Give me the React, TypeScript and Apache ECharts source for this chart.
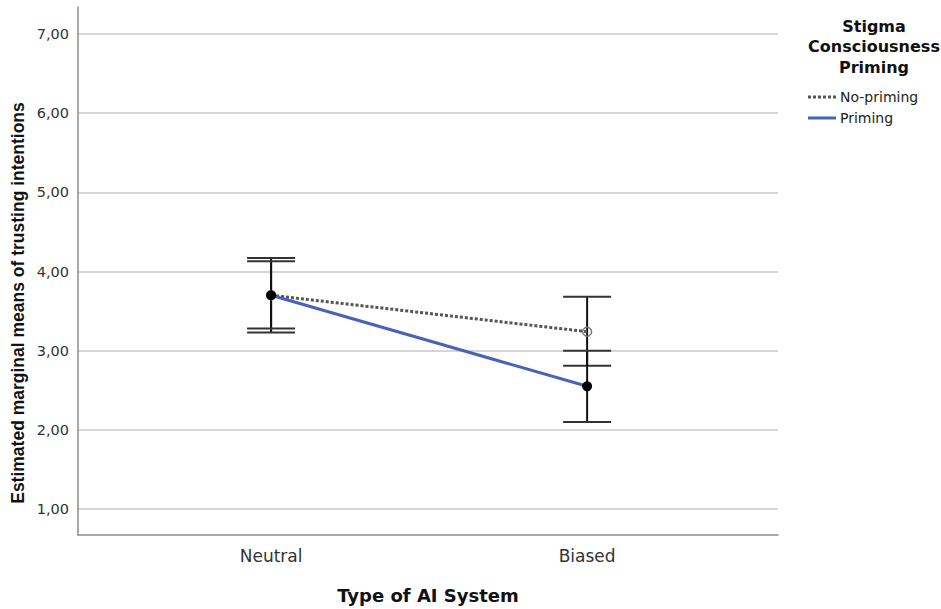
import React, { useEffect, useRef } from "react";
import * as echarts from "echarts";

const categories = ["Neutral", "Biased"];
const noPrimingMeans = [3.70, 3.24];
const noPrimingLow = [3.23, 2.81];
const noPrimingHigh = [4.17, 3.68];
const primingMeans = [3.70, 2.55];
const primingLow = [3.28, 2.10];
const primingHigh = [4.13, 3.00];
const yTicks = [1, 2, 3, 4, 5, 6, 7];

const fmt = (v: number) => v.toFixed(2).replace(".", ",");

export default function App() {
  const ref = useRef<HTMLDivElement>(null);
  useEffect(() => {
    if (!ref.current) return;
    const chart = echarts.init(ref.current, null, { renderer: "svg" });
    const errData: number[][] = [];
    categories.forEach((_, i) => {
      errData.push([i + 1, noPrimingLow[i], noPrimingHigh[i]]);
      errData.push([i + 1, primingLow[i], primingHigh[i]]);
    });
    const capColor = "#333";
    chart.setOption({
      animation: false,
      backgroundColor: "#fff",
      grid: { left: 78, top: 7, right: 163, bottom: 74, containLabel: false },
      xAxis: {
        type: "value",
        min: 0.389,
        max: 2.604,
        axisLine: { show: true, lineStyle: { color: "#8c8c8c", width: 1.5 } },
        axisTick: { show: false, customValues: [1, 2] },
        splitLine: { show: false },
        axisLabel: {
          customValues: [1, 2],
          formatter: (v: number) => categories[Math.round(v) - 1] ?? "",
          fontFamily: "DejaVu Sans",
          fontSize: 17,
          color: "#333",
          margin: 12,
        },
        name: "Type of AI System",
        nameLocation: "middle",
        nameGap: 51,
        nameTextStyle: { fontFamily: "DejaVu Sans", fontWeight: "bold", fontSize: 18, color: "#111" },
      },
      yAxis: {
        type: "value",
        min: 0.672,
        max: 7.341,
        axisLine: { show: true, lineStyle: { color: "#8c8c8c", width: 1.5 } },
        axisTick: { show: false, customValues: yTicks },
        splitLine: { show: true, lineStyle: { color: "#c8c8c8", width: 1.5 } },
        axisLabel: {
          customValues: yTicks,
          formatter: (v: number) => fmt(v),
          fontFamily: "DejaVu Sans",
          fontSize: 14.5,
          color: "#333",
          margin: 9,
        },
      },
      series: [
        {
          type: "custom",
          name: "CI",
          data: errData,
          z: 1,
          renderItem: (params: any, api: any) => {
            const x = api.value(0);
            const lo = api.coord([x, api.value(1)]);
            const hi = api.coord([x, api.value(2)]);
            const hw = 24;
            return {
              type: "group",
              children: [
                { type: "line", shape: { x1: hi[0], y1: hi[1], x2: lo[0], y2: lo[1] }, style: { stroke: "#111", lineWidth: 2 } },
                { type: "line", shape: { x1: hi[0] - hw, y1: hi[1], x2: hi[0] + hw, y2: hi[1] }, style: { stroke: capColor, lineWidth: 2 } },
                { type: "line", shape: { x1: lo[0] - hw, y1: lo[1], x2: lo[0] + hw, y2: lo[1] }, style: { stroke: capColor, lineWidth: 2 } },
              ],
            };
          },
        },
        {
          type: "line",
          name: "No-priming",
          z: 3,
          data: noPrimingMeans.map((v, i) => [i + 1, v]),
          symbol: "circle",
          symbolSize: 9,
          itemStyle: { color: "rgba(255,255,255,0)", borderColor: "#777", borderWidth: 1.5 },
          lineStyle: { color: "#555", width: 3, type: [3, 2] },
        },
        {
          type: "line",
          name: "Priming",
          z: 4,
          data: primingMeans.map((v, i) => [i + 1, v]),
          symbol: "circle",
          symbolSize: 10,
          itemStyle: { color: "#000" },
          lineStyle: { color: "#4763B8", width: 3 },
        },
      ],
      graphic: [
        {
          type: "text",
          x: 18,
          y: 303,
          rotation: Math.PI / 2,
          style: {
            text: "Estimated marginal means of trusting intentions",
            fontFamily: "Liberation Sans",
            fontWeight: "bold",
            fontSize: 17.5,
            fill: "#111",
            align: "center",
            verticalAlign: "middle",
          },
        },
        {
          type: "text",
          x: 874,
          y: 16,
          style: {
            text: "Stigma\nConsciousness\nPriming",
            fontFamily: "DejaVu Sans",
            fontWeight: "bold",
            fontSize: 16,
            lineHeight: 20.5,
            fill: "#111",
            align: "center",
            verticalAlign: "top",
          },
        },
        { type: "line", shape: { x1: 808, y1: 97, x2: 836, y2: 97 }, style: { stroke: "#555", lineWidth: 3, lineDash: [3, 2] } },
        { type: "text", x: 840, y: 97, style: { text: "No-priming", fontFamily: "DejaVu Sans", fontSize: 14, fill: "#222", verticalAlign: "middle" } },
        { type: "line", shape: { x1: 808, y1: 118, x2: 836, y2: 118 }, style: { stroke: "#4763B8", lineWidth: 3 } },
        { type: "text", x: 840, y: 118, style: { text: "Priming", fontFamily: "DejaVu Sans", fontSize: 14, fill: "#222", verticalAlign: "middle" } },
      ],
    });
    return () => chart.dispose();
  }, []);
  return <div ref={ref} style={{ position: "absolute", left: 0, top: 0, width: 941, height: 609 }} />;
}
